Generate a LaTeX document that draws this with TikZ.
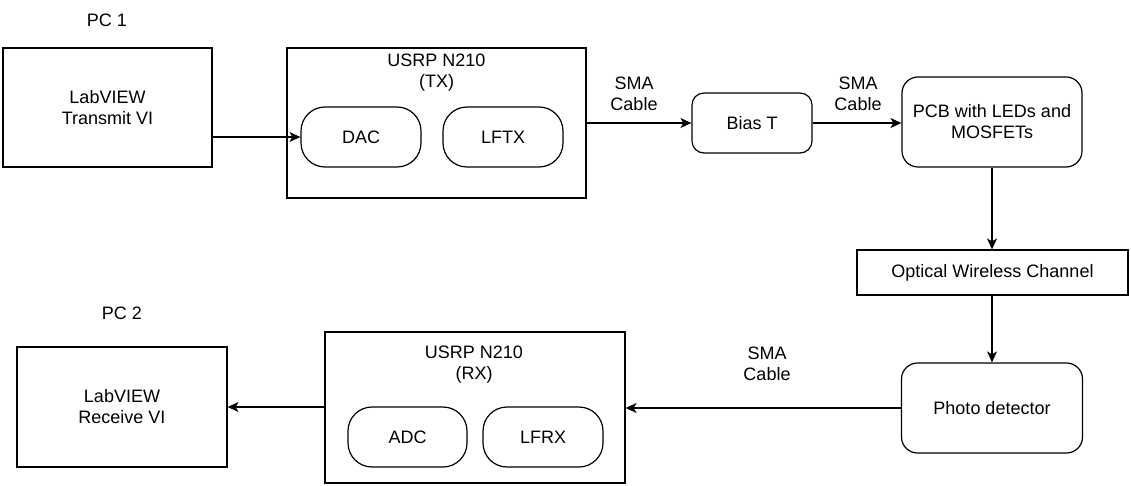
\documentclass[tikz,border=0pt]{standalone}
\usepackage{fontspec}
\setmainfont{Liberation Sans}
\usetikzlibrary{arrows.meta}
\begin{document}
\begin{tikzpicture}[x=1pt,y=-1pt,
  every node/.style={font=\fontsize{18}{21}\selectfont, align=center, inner sep=0pt},
  box/.style={draw, line width=1.2pt, minimum width=#1},
  sqbox/.style={draw, line width=1.2pt, rectangle},
  rbox/.style={draw, line width=1.2pt, rectangle, rounded corners=14pt},
  pill/.style={draw, line width=1.2pt, rectangle, rounded corners=24pt},
  conn/.style={line width=1.2pt, -{Stealth[length=11pt,width=10pt,inset=3pt]}},
  lbl/.style={text=black}
]
\useasboundingbox (0,0) rectangle (1131,486);

% Top row
\node[lbl] (pc1) at (107,20) {PC 1};
\node[sqbox, minimum width=209pt, minimum height=119pt] (lvtx) at (107.5,107.5) {LabVIEW\\Transmit VI};
\node[sqbox, minimum width=299pt, minimum height=150pt] (usrptx) at (436.5,123) {};
\node[lbl] (txtitle) at (436.5,72.5) {USRP N210\\(TX)};
\node[pill, minimum width=120pt, minimum height=60pt] (dac) at (361,137) {DAC};
\node[pill, minimum width=120pt, minimum height=60pt] (lftx) at (503,137) {LFTX};
\node[rbox, rounded corners=12pt, minimum width=120pt, minimum height=60pt] (biast) at (752,123) {Bias T};
\node[rbox, rounded corners=16pt, minimum width=180pt, minimum height=90pt] (pcb) at (992,122) {PCB with LEDs and\\MOSFETs};
\node[lbl] (sma1) at (634,94) {SMA\\Cable};
\node[lbl] (sma2) at (858,94) {SMA\\Cable};

% Right column
\node[sqbox, minimum width=271pt, minimum height=45pt] (owc) at (992.5,272.5) {Optical Wireless Channel};
\node[rbox, rounded corners=16pt, minimum width=181pt, minimum height=90pt] (pd) at (992,408) {Photo detector};

% Bottom row
\node[lbl] (pc2) at (122,313) {PC 2};
\node[sqbox, minimum width=210pt, minimum height=120pt] (lvrx) at (122,407) {LabVIEW\\Receive VI};
\node[sqbox, minimum width=300pt, minimum height=151pt] (usrprx) at (475,407.5) {};
\node[lbl] (rxtitle) at (474,364.5) {USRP N210\\(RX)};
\node[pill, minimum width=119pt, minimum height=60pt] (adc) at (407.5,437) {ADC};
\node[pill, minimum width=120pt, minimum height=60pt] (lfrx) at (543,437) {LFRX};
\node[lbl] (sma3) at (767,363.5) {SMA\\Cable};

% Connectors
\draw[conn] (lvtx.east |- dac.west) -- (dac.west);
\draw[conn] (usrptx.east |- biast.west) -- (biast.west);
\draw[conn] (biast.east) -- (pcb.west |- biast.east);
\draw[conn] (pcb.south) -- (owc.north -| pcb.south);
\draw[conn] (owc.south -| pd.north) -- (pd.north);
\draw[conn] (pd.west) -- (usrprx.east |- pd.west);
\draw[conn] (usrprx.west |- lvrx.east) -- (lvrx.east);
\end{tikzpicture}
\end{document}
